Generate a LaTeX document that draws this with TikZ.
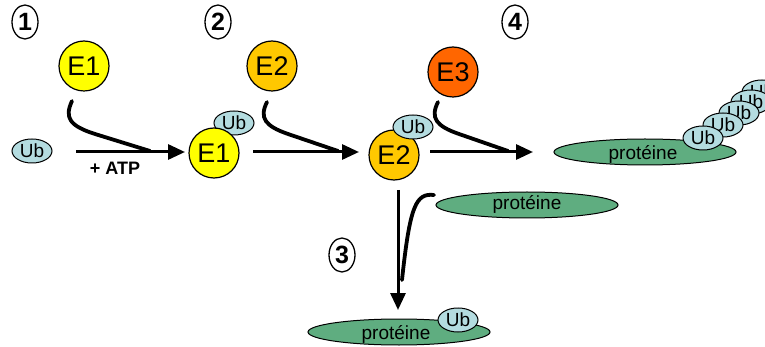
\documentclass[tikz,border=0pt]{standalone}
\usepackage{fontspec}
\setmainfont{Liberation Sans}
\usetikzlibrary{arrows.meta,shapes.geometric}
\definecolor{eone}{HTML}{FFFF00}
\definecolor{etwo}{HTML}{FFC800}
\definecolor{ethree}{HTML}{FF6600}
\definecolor{ubc}{HTML}{B4DCE0}
\definecolor{protc}{HTML}{5FAD80}
\begin{document}
\begin{tikzpicture}[x=1pt,y=-1pt,
  enz/.style={circle, draw, line width=1.2pt, minimum size=50pt, inner sep=0pt, font=\fontsize{27}{27}\selectfont},
  ub/.style={ellipse, draw, line width=1pt, fill=ubc, minimum width=40pt, minimum height=24pt, inner sep=0pt, font=\fontsize{19}{19}\selectfont},
  prot/.style={ellipse, draw, line width=1pt, fill=protc, minimum width=182pt, minimum height=26pt, inner sep=0pt},
  ptext/.style={font=\fontsize{19}{19}\selectfont, inner sep=0pt},
  num/.style={ellipse, draw, line width=1.3pt, minimum width=26pt, minimum height=34pt, inner sep=0pt, font=\bfseries\fontsize{25}{25}\selectfont},
  arr/.style={line width=3pt, -{Triangle[length=17pt,width=15pt]}},
  hook/.style={line width=3.8pt, line cap=round}
]
\useasboundingbox (0,0) rectangle (765,347);

% numbers
\node[num] (n1) at (25,22) {1};
\node[num] (n2) at (218,22) {2};
\node[num] (n4) at (515,22) {4};
\node[num] (n3) at (342,255) {3};

% step 1
\node[enz, fill=eone] (e1a) at (84,66) {E1};
\node[ub] (ub0) at (32,151) {Ub};
\coordinate (a1s) at (76,152);
\draw[arr] (a1s) -- (185,152) coordinate (a1e);
\node[font=\bfseries\fontsize{18}{18}\selectfont] (atp) at (115,168) {+ ATP};
\coordinate (h1s) at (72,101);
\coordinate (h1e) at (150,151);
\draw[hook] (h1s) .. controls (64,118) and (70,126) .. (95,134) -- (h1e);

% step 2
\node[ub] (ub1) at (234,123) {Ub};
\node[enz, fill=eone] (e1m) at (214,153) {E1};
\node[enz, fill=etwo] (e2a) at (272,66) {E2};
\coordinate (a2s) at (253,152);
\draw[arr] (a2s) -- (359,152);
\coordinate (h2s) at (267,102);
\coordinate (h2e) at (338,151);
\draw[hook] (h2s) .. controls (259,118) and (265,126) .. (288,134) -- (h2e);

% step 3 (E2 middle)
\node[enz, fill=etwo] (e2m) at (394,155) {E2};
\node[ub] (ub2) at (413,127) {Ub};
\node[enz, fill=ethree] (e3) at (453,72) {E3};
\coordinate (a3s) at (430,152);
\draw[arr] (a3s) -- (533,152);
\coordinate (h3s) at (438,102);
\coordinate (h3e) at (508,151);
\draw[hook] (h3s) .. controls (430,118) and (436,126) .. (459,134) -- (h3e);

% right protein with Ub chain
\node[prot] (pr) at (645,152) {};
\node[ptext] (prt) at (643,154) {protéine};
\node[ub] (u5) at (762,92) {Ub};
\node[ub] (u4) at (751,102) {Ub};
\node[ub] (u3) at (739,113) {Ub};
\node[ub] (u2) at (723,125) {Ub};
\node[ub] (u1) at (703,138) {Ub};

% middle protein
\node[prot] (pm) at (527,205) {};
\node[ptext] (pmt) at (527,204) {protéine};

% vertical arrow
\coordinate (vs) at (398,190);
\draw[arr] (vs) -- (398,310);
\draw[hook] (434,195) .. controls (416,193) and (410,205) .. (402,280);

% bottom protein
\node[prot] (pb) at (399,332) {};
\node[ptext] (pbt) at (396,334) {protéine};
\node[ub] (ub3) at (458,320) {Ub};
\end{tikzpicture}
\end{document}
